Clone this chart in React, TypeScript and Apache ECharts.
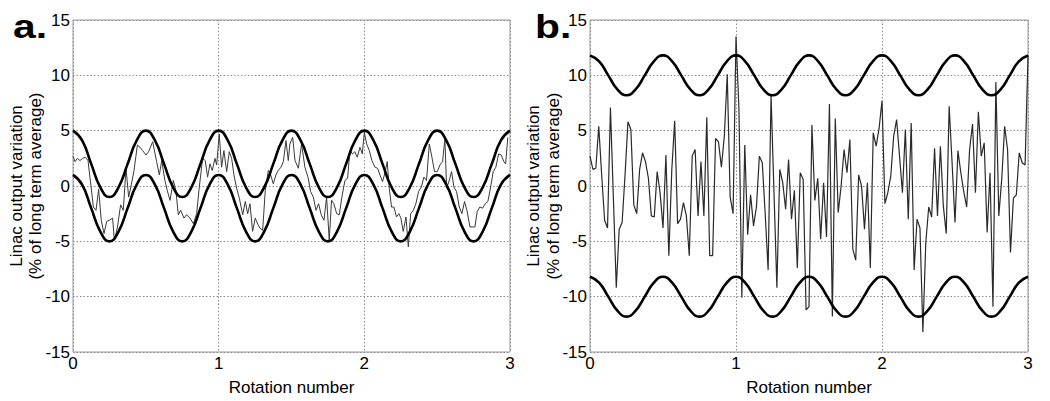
import React, { useEffect, useRef } from "react";
import * as echarts from "echarts";

// ---------- data ----------
const xTickLabels = ["0", "1", "2", "3"];
const yTickLabels = ["-15", "-10", "-5", "0", "5", "10", "15"];
const panelLabels = ["a.", "b."];
const yNameLine1 = "Linac output variation";
const yNameLine2 = "(% of long term average)";
const xName = "Rotation number";

// envelope curves, sampled every 1/16 rotation (0 .. 3)
const envStep = 1 / 16;
const leftUpper = [
  5, 4.12, 2, -0.12, -1, -0.12, 2, 4.12,
  5, 4.12, 2, -0.12, -1, -0.12, 2, 4.12,
  5, 4.12, 2, -0.12, -1, -0.12, 2, 4.12,
  5, 4.12, 2, -0.12, -1, -0.12, 2, 4.12,
  5, 4.12, 2, -0.12, -1, -0.12, 2, 4.12,
  5, 4.12, 2, -0.12, -1, -0.12, 2, 4.12,
  5,
];
const leftLower = [
  1, 0.12, -2, -4.12, -5, -4.12, -2, 0.12,
  1, 0.12, -2, -4.12, -5, -4.12, -2, 0.12,
  1, 0.12, -2, -4.12, -5, -4.12, -2, 0.12,
  1, 0.12, -2, -4.12, -5, -4.12, -2, 0.12,
  1, 0.12, -2, -4.12, -5, -4.12, -2, 0.12,
  1, 0.12, -2, -4.12, -5, -4.12, -2, 0.12,
  1,
];
const rightUpper = [
  11.8, 11.27, 10, 8.73, 8.2, 8.73, 10, 11.27,
  11.8, 11.27, 10, 8.73, 8.2, 8.73, 10, 11.27,
  11.8, 11.27, 10, 8.73, 8.2, 8.73, 10, 11.27,
  11.8, 11.27, 10, 8.73, 8.2, 8.73, 10, 11.27,
  11.8, 11.27, 10, 8.73, 8.2, 8.73, 10, 11.27,
  11.8, 11.27, 10, 8.73, 8.2, 8.73, 10, 11.27,
  11.8,
];
const rightLower = [
  -8.2, -8.73, -10, -11.27, -11.8, -11.27, -10, -8.73,
  -8.2, -8.73, -10, -11.27, -11.8, -11.27, -10, -8.73,
  -8.2, -8.73, -10, -11.27, -11.8, -11.27, -10, -8.73,
  -8.2, -8.73, -10, -11.27, -11.8, -11.27, -10, -8.73,
  -8.2, -8.73, -10, -11.27, -11.8, -11.27, -10, -8.73,
  -8.2, -8.73, -10, -11.27, -11.8, -11.27, -10, -8.73,
  -8.2,
];

// panel a measured trace: [rotation, % variation]
const leftTrace: [number, number][] = [
  [0.0, 2.7], [0.014, 2.2], [0.03, 2.5], [0.048, 2.3], [0.066, 2.5], [0.085, 2.6],
  [0.103, 2.3], [0.14, -1.9], [0.158, -2.2], [0.176, -0.3], [0.194, -3.1], [0.213, -4.3],
  [0.231, -3.2], [0.249, -3.1], [0.272, -2.9], [0.284, -4.9], [0.304, -3.8], [0.327, -1.7],
  [0.345, -2.2], [0.364, 1.6], [0.382, -1.0], [0.4, 0.1], [0.419, 1.4], [0.442, 3.7],
  [0.46, 3.5], [0.478, 3.2], [0.501, 2.8], [0.519, 3.1], [0.547, 4.0], [0.574, 2.2],
  [0.593, 1.0], [0.609, 2.3], [0.631, 0.5], [0.647, -0.4], [0.666, -1.3], [0.689, 0.5],
  [0.707, -0.5], [0.723, -2.6], [0.739, -2.2], [0.762, -2.9], [0.78, -2.6], [0.803, -2.9],
  [0.826, -3.4], [0.849, -2.5], [0.867, -0.1], [0.89, 2.5], [0.908, 2.3], [0.924, 0.8],
  [0.94, 2.0], [0.956, 1.4], [0.975, 2.5], [0.986, 1.9], [1.004, 4.7], [1.02, 1.7],
  [1.036, 3.2], [1.055, 1.3], [1.073, 3.1], [1.089, 2.5], [1.105, 1.0], [1.123, -0.2],
  [1.142, -1.1], [1.165, -2.6], [1.183, -1.4], [1.199, -2.5], [1.215, -1.6], [1.233, -4.1],
  [1.251, -2.9], [1.27, -3.5], [1.283, -3.8], [1.302, -4.0], [1.32, -0.4], [1.341, 1.4],
  [1.357, 1.0], [1.375, 0.2], [1.393, 1.0], [1.409, 1.4], [1.428, 1.7], [1.444, 2.2],
  [1.462, 4.1], [1.478, 2.3], [1.489, 3.8], [1.508, 4.4], [1.524, 2.3], [1.547, 1.6],
  [1.569, 3.8], [1.592, 1.7], [1.615, 0.7], [1.631, -0.5], [1.65, -1.0], [1.668, -2.2],
  [1.686, -1.6], [1.704, -2.6], [1.723, -3.1], [1.741, -1.0], [1.759, -4.9], [1.775, -1.3],
  [1.791, -1.6], [1.81, -2.5], [1.828, -2.6], [1.846, -1.0], [1.867, 0.5], [1.885, 0.7],
  [1.901, 3.2], [1.919, 2.9], [1.935, 3.1], [1.951, 2.6], [1.97, 3.5], [1.986, 2.9],
  [2.0, 4.85], [2.016, 3.8], [2.034, 3.2], [2.052, 2.3], [2.073, 1.7], [2.091, 1.6],
  [2.107, 1.0], [2.125, 0.4], [2.144, 1.3], [2.157, 2.2], [2.171, -0.2], [2.187, -1.9],
  [2.203, -1.9], [2.221, -2.8], [2.237, -2.5], [2.251, -2.9], [2.267, -4.1], [2.286, -2.8],
  [2.302, -5.5], [2.318, -2.5], [2.336, -2.2], [2.354, -1.6], [2.372, -0.5], [2.391, -0.1],
  [2.409, 0.8], [2.427, 0.5], [2.446, 3.8], [2.464, 2.6], [2.482, 1.3], [2.501, 1.3],
  [2.519, 1.9], [2.537, 2.2], [2.553, 4.25], [2.565, -0.2], [2.583, 0.5], [2.599, 1.3],
  [2.615, -0.1], [2.633, -0.5], [2.652, -1.9], [2.67, -2.5], [2.688, -1.4], [2.706, -2.3],
  [2.725, -3.7], [2.743, -3.7], [2.759, -3.7], [2.775, -2.3], [2.793, -1.9], [2.812, -2.0],
  [2.83, -1.6], [2.848, -1.4], [2.867, -0.1], [2.885, 1.3], [2.903, 1.7], [2.922, 2.9],
  [2.94, 2.8], [2.958, 2.2], [2.97, 2.0], [2.985, 4.4],
];

// panel b measured trace, one value every 1/50 rotation (0 .. 3)
const rightStep = 1 / 50;
const rightTrace = [
  2.7, 1.5, 1.6, 5.4, 1.0, -3.1, -3.8, 7.1, -1.0, -9.2,
  -3.9, -3.3, 1.0, 5.8, 5.1, -1.7, -2.5, 1.5, 3.0, 2.2,
  0.7, -2.7, -2.8, 1.3, -0.6, -3.8, 2.8, -6.3, 1.4, 5.9,
  -3.4, -3.0, -1.5, -2.7, -6.3, 2.7, 3.3, -2.7, 2.2, -2.7,
  6.2, -6.3, -6.3, 4.3, 4.0, 1.7, 4.5, 10.1, -1.0, -2.5,
  13.5, 7.0, -10.1, 3.7, -4.4, -0.8, -3.6, -1.9, 2.7, 2.1,
  -2.5, -7.6, 8.2, -0.5, -9.2, 1.5, 0.3, -2.1, 2.4, -3.0,
  -0.4, -7.4, 1.2, 0.6, -11.2, -10.9, 5.5, -1.3, 0.7, -4.8,
  0.3, -4.6, 7.4, -11.8, 6.1, -2.4, 0.0, 3.3, 1.2, 4.2,
  -5.7, -6.7, 1.0, 0.0, -3.9, 0.3, -7.4, 4.8, 3.6, 5.2,
  7.7, -1.6, -0.6, 0.9, 4.5, 6.0, 2.7, -0.6, 5.1, -3.0,
  5.7, -7.6, -3.0, -3.8, -13.2, -5.1, -1.9, -2.8, 3.4, -2.7,
  3.6, -1.8, -4.3, 7.2, 2.1, -3.3, 3.2, 1.2, -0.5, -1.9,
  3.3, 5.6, -0.6, 6.7, 2.7, 3.9, -4.2, 1.2, -10.9, 9.4,
  -2.7, 0.6, 5.4, 3.3, -6.0, -1.1, -0.8, 3.0, 2.1, 1.9,
  11.8,
];

// ---------- layout / style ----------
const FONT = "'Liberation Sans', Arial, Helvetica, sans-serif";
const gridBoxes = [
  { left: 73, top: 20, width: 437, height: 332 },
  { left: 590, top: 20, width: 438, height: 332 },
];

function withX(values: number[], step: number): [number, number][] {
  return values.map((v, i) => [i * step, v]);
}

export default function App() {
  const ref = useRef<HTMLDivElement>(null);

  useEffect(() => {
    if (!ref.current) return;
    const chart = echarts.init(ref.current, undefined, { renderer: "svg" });

    const yMin = Number(yTickLabels[0]);
    const yMax = Number(yTickLabels[yTickLabels.length - 1]);
    const yInterval = Number(yTickLabels[1]) - Number(yTickLabels[0]);
    const xMin = Number(xTickLabels[0]);
    const xMax = Number(xTickLabels[xTickLabels.length - 1]);

    const splitStyle = { color: "#8c8c8c", width: 1, type: [1.5, 2] as number[] };

    const xAxes = gridBoxes.map((_, gi) => ({
      type: "value",
      gridIndex: gi,
      min: xMin,
      max: xMax,
      interval: 1,
      axisLine: { show: false },
      axisTick: { show: false },
      splitLine: { show: true, lineStyle: splitStyle },
      axisLabel: { fontSize: 17, color: "#000", margin: 3, fontFamily: FONT },
      name: xName,
      nameLocation: "middle",
      nameGap: 27,
      nameTextStyle: { fontSize: 17, color: "#000", fontFamily: FONT },
    }));

    const yAxes = gridBoxes.map((_, gi) => ({
      type: "value",
      gridIndex: gi,
      min: yMin,
      max: yMax,
      interval: yInterval,
      axisLine: { show: false },
      axisTick: { show: false },
      splitLine: { show: true, lineStyle: splitStyle },
      axisLabel: { fontSize: 17, color: "#000", margin: 3, fontFamily: FONT },
    }));

    const envLine = (data: number[], gi: number) => ({
      type: "line",
      xAxisIndex: gi,
      yAxisIndex: gi,
      data: withX(data, envStep),
      showSymbol: false,
      symbol: "none",
      smooth: true,
      lineStyle: { color: "#000", width: 2.6 },
      z: 3,
      silent: true,
    });

    const yNameGraphics = [
      { x: 16, line: yNameLine1 },
      { x: 35, line: yNameLine2 },
      { x: 533, line: yNameLine1 },
      { x: 553, line: yNameLine2 },
    ].map((g) => ({
      type: "text",
      x: g.x,
      y: 186,
      rotation: Math.PI / 2,
      style: {
        text: g.line,
        fontSize: 17,
        fontFamily: FONT,
        fill: "#000",
        align: "center",
        verticalAlign: "middle",
      },
    }));

    const panelGraphics = [
      { x: 13, text: panelLabels[0] },
      { x: 535, text: panelLabels[1] },
    ].map((p) => ({
      type: "text",
      x: p.x,
      y: 43,
      scaleX: 1.2,
      style: {
        text: p.text,
        fontSize: 34,
        fontWeight: "bold",
        fontFamily: FONT,
        fill: "#000",
        align: "left",
        verticalAlign: "bottom",
      },
    }));

    chart.setOption({
      animation: false,
      backgroundColor: "#fff",
      grid: gridBoxes.map((g) => ({
        ...g,
        show: true,
        borderColor: "#9a9a9a",
        borderWidth: 1,
        backgroundColor: "transparent",
        containLabel: false,
      })),
      xAxis: xAxes,
      yAxis: yAxes,
      series: [
        envLine(leftUpper, 0),
        envLine(leftLower, 0),
        {
          type: "line",
          xAxisIndex: 0,
          yAxisIndex: 0,
          data: leftTrace,
          showSymbol: false,
          symbol: "none",
          lineStyle: { color: "#3a3a3a", width: 1 },
          z: 2,
        },
        envLine(rightUpper, 1),
        envLine(rightLower, 1),
        {
          type: "line",
          xAxisIndex: 1,
          yAxisIndex: 1,
          data: withX(rightTrace, rightStep),
          showSymbol: false,
          symbol: "none",
          lineStyle: { color: "#2a2a2a", width: 1.2 },
          z: 2,
        },
      ],
      graphic: [...yNameGraphics, ...panelGraphics],
    });

    return () => chart.dispose();
  }, []);

  return (
    <div
      ref={ref}
      style={{ position: "absolute", left: 0, top: 0, width: 1050, height: 401, background: "#fff" }}
    />
  );
}
